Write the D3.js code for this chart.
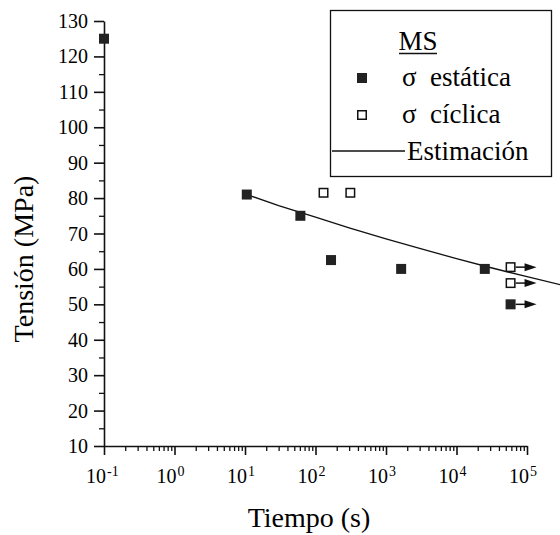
<!DOCTYPE html>
<html>
<head>
<meta charset="utf-8">
<script src="https://cdn.jsdelivr.net/npm/d3@7"></script>
<style>
  body { margin: 0; background: #fff; }
</style>
</head>
<body>
<div id="chart"></div>
<script>
// Dades llegides del gràfic
const staticTime = [0.1, 10.6, 61, 166, 1640, 25200, 58500];
const staticStress = [125, 81, 75, 62.5, 60, 60, 50];
const staticRunout = [false, false, false, false, false, false, true];

const cyclicTime = [130, 312, 58500, 58500];
const cyclicStress = [81.5, 81.5, 60.5, 56];
const cyclicRunout = [false, false, true, true];

const fitTime = [10.6, 30, 100, 300, 1000, 3000, 10000, 30000, 100000, 300000];
const fitStress = [81, 77.9, 74.6, 71.6, 68.5, 65.8, 62.9, 60.4, 57.8, 55.5];

const yTicks = [10, 20, 30, 40, 50, 60, 70, 80, 90, 100, 110, 120, 130];
const xExponents = [-1, 0, 1, 2, 3, 4, 5];

const width = 560, height = 535;
const serif = "Liberation Serif";

const svg = d3.select("#chart").append("svg")
    .attr("width", width)
    .attr("height", height);

const x = d3.scaleLog().domain([0.1, 1e5]).range([104, 527]);
const y = d3.scaleLinear().domain([10, 130]).range([446, 21]);

// Títols dels eixos
svg.append("text")
    .attr("x", 309).attr("y", 527)
    .attr("font-family", serif)
    .attr("font-size", 28)
    .attr("text-anchor", "middle")
    .text("Tiempo (s)");

svg.append("text")
    .attr("x", 0).attr("y", 0)
    .attr("transform", "translate(33,259) rotate(-90)")
    .attr("font-family", serif)
    .attr("font-size", 28)
    .attr("text-anchor", "middle")
    .text("Tensión (MPa)");

// Etiquetes eix Y
svg.append("g").selectAll("text")
    .data(yTicks)
    .join("text")
    .attr("x", x(0.1) - 16)
    .attr("y", d => y(d) + 7)
    .attr("font-family", serif)
    .attr("font-size", 20)
    .attr("text-anchor", "end")
    .text(d => d);

// Etiquetes eix X: "10" + exponent com a text separat
svg.append("g").selectAll("text")
    .data(xExponents)
    .join("text")
    .attr("x", e => x(Math.pow(10, e)) + 2)
    .attr("y", 483)
    .attr("font-family", serif)
    .attr("font-size", 20)
    .attr("text-anchor", "end")
    .text("10");

svg.append("g").selectAll("text")
    .data(xExponents)
    .join("text")
    .attr("x", e => x(Math.pow(10, e)) + 3)
    .attr("y", 476)
    .attr("font-family", serif)
    .attr("font-size", 14)
    .text(e => e);

// Eixos (només línies)
const yMinor = d3.range(15, 130, 10);
const xMinor = [];
xExponents.slice(0, -1).forEach(e => {
    for (let k = 2; k <= 9; k++) xMinor.push(k * Math.pow(10, e));
});

function lines(g, w) {
    g.select(".domain").attr("stroke", "#111").attr("stroke-width", w);
    g.selectAll("line").attr("stroke", "#111").attr("stroke-width", w);
    g.selectAll("text").remove();
    g.attr("font-family", null).attr("font-size", null).attr("text-anchor", null);
}

svg.append("g")
    .attr("transform", `translate(${x(0.1)},0)`)
    .call(d3.axisLeft(y).tickValues(yMinor).tickSize(5).tickFormat(""))
    .call(g => g.select(".domain").remove())
    .call(lines, 1.3);

svg.append("g")
    .attr("transform", `translate(${x(0.1)},0)`)
    .call(d3.axisLeft(y).tickValues(yTicks).tickSize(10).tickSizeOuter(0).tickFormat(""))
    .call(lines, 1.6);

svg.append("g")
    .attr("transform", `translate(0,${y(10)})`)
    .call(d3.axisBottom(x).tickValues(xMinor).tickSize(5).tickFormat(""))
    .call(g => g.select(".domain").remove())
    .call(lines, 1.3);

svg.append("g")
    .attr("transform", `translate(0,${y(10)})`)
    .call(d3.axisBottom(x).tickValues(xExponents.map(e => Math.pow(10, e)))
        .tickSize(9).tickSizeOuter(0).tickFormat(""))
    .call(lines, 1.6);

// Línia d'estimació
const fit = fitTime.map((t, i) => [t, fitStress[i]]);
svg.append("path")
    .datum(fit)
    .attr("fill", "none")
    .attr("stroke", "#111")
    .attr("stroke-width", 1.3)
    .attr("d", d3.line().x(d => x(d[0])).y(d => y(d[1])));

// Fletxes (runout)
const staticPts = staticTime.map((t, i) => ({ t, s: staticStress[i], r: staticRunout[i] }));
const cyclicPts = cyclicTime.map((t, i) => ({ t, s: cyclicStress[i], r: cyclicRunout[i] }));
const runouts = staticPts.concat(cyclicPts).filter(d => d.r);

svg.append("g").selectAll("line")
    .data(runouts)
    .join("line")
    .attr("x1", d => x(d.t) + 5)
    .attr("x2", d => x(d.t) + 16)
    .attr("y1", d => y(d.s))
    .attr("y2", d => y(d.s))
    .attr("stroke", "#111")
    .attr("stroke-width", 1.5);

svg.append("g").selectAll("path")
    .data(runouts)
    .join("path")
    .attr("d", d => {
        const x0 = x(d.t) + 14, y0 = y(d.s);
        return `M${x0},${y0 - 4}L${x0 + 12},${y0}L${x0},${y0 + 4}Z`;
    })
    .attr("fill", "#111");

// Punts
const sq = 10;
svg.append("g").selectAll("rect")
    .data(staticPts)
    .join("rect")
    .attr("x", d => x(d.t) - sq / 2)
    .attr("y", d => y(d.s) - sq / 2)
    .attr("width", sq).attr("height", sq)
    .attr("fill", "#222");

svg.append("g").selectAll("rect")
    .data(cyclicPts)
    .join("rect")
    .attr("x", d => x(d.t) - sq / 2 + 0.75)
    .attr("y", d => y(d.s) - sq / 2 + 0.75)
    .attr("width", sq - 1.5).attr("height", sq - 1.5)
    .attr("fill", "#fff")
    .attr("stroke", "#111")
    .attr("stroke-width", 1.5);

// Llegenda
const legend = svg.append("g");
legend.append("rect")
    .attr("x", 330.5).attr("y", 10.5)
    .attr("width", 221).attr("height", 166)
    .attr("fill", "#fff")
    .attr("stroke", "#111")
    .attr("stroke-width", 1.3);

legend.append("text")
    .attr("x", 418).attr("y", 50)
    .attr("font-family", serif)
    .attr("font-size", 27)
    .attr("text-anchor", "middle")
    .text("MS");
legend.append("line")
    .attr("x1", 399).attr("x2", 437)
    .attr("y1", 53.5).attr("y2", 53.5)
    .attr("stroke", "#111").attr("stroke-width", 1.3);

const legendLabels = ["σ  estática", "σ  cíclica"];
const legendRows = [86, 123];

legend.append("rect")
    .attr("x", 357).attr("y", legendRows[0] - 13)
    .attr("width", sq).attr("height", sq)
    .attr("fill", "#222");
legend.append("rect")
    .attr("x", 357.75).attr("y", legendRows[1] - 12.25)
    .attr("width", sq - 1.5).attr("height", sq - 1.5)
    .attr("fill", "#fff").attr("stroke", "#111").attr("stroke-width", 1.5);

legend.selectAll("text.item")
    .data(legendLabels)
    .join("text")
    .attr("class", "item")
    .attr("x", 402)
    .attr("y", (d, i) => legendRows[i])
    .attr("font-family", serif)
    .attr("font-size", 27)
    .style("white-space", "pre")
    .text(d => d);

legend.append("line")
    .attr("x1", 332).attr("x2", 405)
    .attr("y1", 151).attr("y2", 151)
    .attr("stroke", "#111").attr("stroke-width", 1.3);
legend.append("text")
    .attr("x", 407).attr("y", 160)
    .attr("font-family", serif)
    .attr("font-size", 27)
    .text("Estimación");
</script>
</body>
</html>
